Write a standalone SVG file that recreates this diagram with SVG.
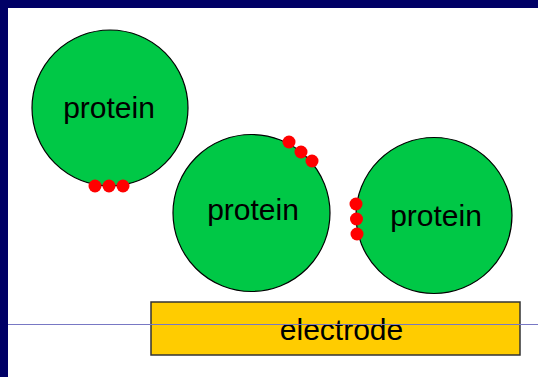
<svg xmlns="http://www.w3.org/2000/svg" width="538" height="377" viewBox="0 0 538 377">
<style>
.protein{fill:#00C846;stroke:#000;stroke-width:1.2}
.dot{fill:#FF0000}
.lbl{font-family:"Liberation Sans",Arial,sans-serif;font-size:30px;fill:#000;text-anchor:middle}
</style>
<rect x="0" y="0" width="538" height="377" fill="#000066"/>
<rect x="8" y="8" width="530" height="369" fill="#FFFFFF"/>
<g id="protein1">
<circle class="protein" cx="110" cy="108" r="78"/>
<text class="lbl" x="109" y="118">protein</text>
<circle class="dot" cx="95" cy="186" r="6.5"/>
<circle class="dot" cx="109" cy="186" r="6.5"/>
<circle class="dot" cx="123" cy="186" r="6.5"/>
</g>
<g id="protein2">
<circle class="protein" cx="251.5" cy="213" r="78.5"/>
<text class="lbl" x="253" y="220">protein</text>
<circle class="dot" cx="289" cy="142" r="6.5"/>
<circle class="dot" cx="301" cy="152" r="6.5"/>
<circle class="dot" cx="312" cy="161" r="6.5"/>
</g>
<g id="protein3">
<circle class="protein" cx="434" cy="215.5" r="78"/>
<text class="lbl" x="436" y="226">protein</text>
<circle class="dot" cx="356" cy="204" r="6.5"/>
<circle class="dot" cx="356.5" cy="219" r="6.5"/>
<circle class="dot" cx="357" cy="234" r="6.5"/>
</g>
<g id="electrode">
<rect x="151" y="302" width="369" height="53" fill="#FFCC00" stroke="#333" stroke-width="1.5"/>
<text class="lbl" x="341.5" y="340">electrode</text>
</g>
<g id="connectors">
<line x1="8" y1="324.5" x2="538" y2="324.5" stroke="#7878C4" stroke-width="1"/>
</g>
</svg>
